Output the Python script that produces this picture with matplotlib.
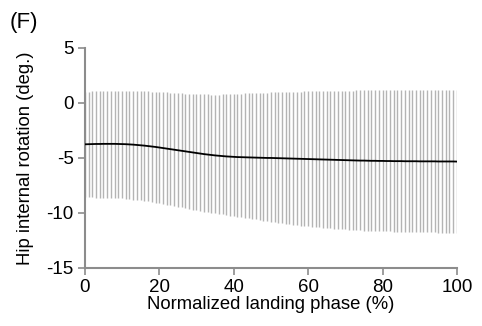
import matplotlib
matplotlib.use("Agg")
import matplotlib.pyplot as plt
import numpy as np

plt.rcParams['font.family'] = ['Liberation Sans', 'DejaVu Sans']
plt.rcParams['axes.unicode_minus'] = False

phase = list(range(0, 101))

mean = [-3.76, -3.75, -3.74, -3.73, -3.73, -3.72, -3.72, -3.72, -3.72, -3.73, -3.74,
        -3.75, -3.77, -3.79, -3.82, -3.85, -3.88, -3.92, -3.96, -4.00, -4.05,
        -4.10, -4.15, -4.20, -4.25, -4.30, -4.35, -4.40, -4.45, -4.50, -4.55,
        -4.60, -4.65, -4.69, -4.73, -4.77, -4.80, -4.83, -4.86, -4.88, -4.90,
        -4.92, -4.93, -4.94, -4.95, -4.96, -4.97, -4.98, -4.99, -5.00, -5.00,
        -5.01, -5.02, -5.03, -5.04, -5.05, -5.06, -5.07, -5.08, -5.09, -5.10,
        -5.11, -5.12, -5.13, -5.14, -5.15, -5.16, -5.17, -5.18, -5.19, -5.20,
        -5.21, -5.22, -5.23, -5.24, -5.24, -5.25, -5.26, -5.26, -5.27, -5.27,
        -5.28, -5.28, -5.29, -5.29, -5.29, -5.30, -5.30, -5.30, -5.30, -5.31,
        -5.31, -5.31, -5.31, -5.31, -5.32, -5.32, -5.32, -5.32, -5.32, -5.33]

upper = [1.00, 1.02, 1.04, 1.06, 1.08, 1.09, 1.10, 1.10, 1.10, 1.10, 1.10,
         1.10, 1.10, 1.09, 1.08, 1.07, 1.06, 1.05, 1.03, 1.01, 0.99,
         0.97, 0.95, 0.93, 0.91, 0.89, 0.87, 0.85, 0.83, 0.81, 0.80,
         0.79, 0.78, 0.77, 0.76, 0.76, 0.76, 0.77, 0.78, 0.79, 0.80,
         0.82, 0.84, 0.86, 0.88, 0.90, 0.91, 0.92, 0.93, 0.94, 0.95,
         0.96, 0.97, 0.98, 0.99, 1.00, 1.01, 1.02, 1.03, 1.04, 1.05,
         1.06, 1.07, 1.08, 1.09, 1.10, 1.10, 1.11, 1.11, 1.12, 1.12,
         1.13, 1.13, 1.14, 1.14, 1.15, 1.15, 1.15, 1.16, 1.16, 1.16,
         1.17, 1.17, 1.17, 1.18, 1.18, 1.18, 1.18, 1.19, 1.19, 1.19,
         1.19, 1.19, 1.20, 1.20, 1.20, 1.20, 1.20, 1.20, 1.20, 1.20]

lower = [-8.57, -8.58, -8.59, -8.60, -8.61, -8.62, -8.63, -8.64, -8.65, -8.66, -8.68,
         -8.71, -8.74, -8.78, -8.82, -8.86, -8.90, -8.95, -9.00, -9.06, -9.12,
         -9.18, -9.24, -9.30, -9.36, -9.42, -9.48, -9.55, -9.62, -9.69, -9.76,
         -9.83, -9.89, -9.94, -9.99, -10.04, -10.09, -10.14, -10.19, -10.24, -10.29,
         -10.34, -10.39, -10.44, -10.49, -10.54, -10.59, -10.64, -10.69, -10.74, -10.80,
         -10.85, -10.90, -10.94, -10.98, -11.02, -11.06, -11.10, -11.14, -11.18, -11.22,
         -11.25, -11.28, -11.31, -11.34, -11.37, -11.40, -11.43, -11.46, -11.48, -11.50,
         -11.52, -11.54, -11.56, -11.58, -11.60, -11.62, -11.63, -11.64, -11.65, -11.66,
         -11.67, -11.68, -11.69, -11.70, -11.71, -11.72, -11.73, -11.74, -11.75, -11.75,
         -11.76, -11.76, -11.77, -11.77, -11.78, -11.78, -11.79, -11.79, -11.80, -11.80]

fig = plt.figure(figsize=(4.82, 3.26), dpi=100)
ax = fig.add_axes([0.176, 0.178, 0.772, 0.675])

ax.vlines(phase, lower, upper, color='#b4b4b4', linewidth=1.0, zorder=1)
ax.plot(phase, mean, color='black', linewidth=1.3, zorder=3)

ax.set_xlim(0, 100)
ax.set_ylim(-15, 5)
ax.set_xticks([0, 20, 40, 60, 80, 100])
ax.set_yticks([5, 0, -5, -10, -15])

for s in ['top', 'right']:
    ax.spines[s].set_visible(False)
for s in ['left', 'bottom']:
    ax.spines[s].set_color('#8c8c8c')
    ax.spines[s].set_linewidth(1.5)
ax.tick_params(axis='both', direction='out', length=5, width=1.2, color='#8c8c8c',
               labelsize=13.5, pad=3)

ax.set_xlabel('Normalized landing phase (%)', fontsize=13.3, labelpad=0)
ax.set_ylabel('Hip internal rotation (deg.)', fontsize=13.3, labelpad=9)

fig.text(0.02, 0.915, '(F)', fontsize=16)

fig.savefig('out.png', dpi=100)
